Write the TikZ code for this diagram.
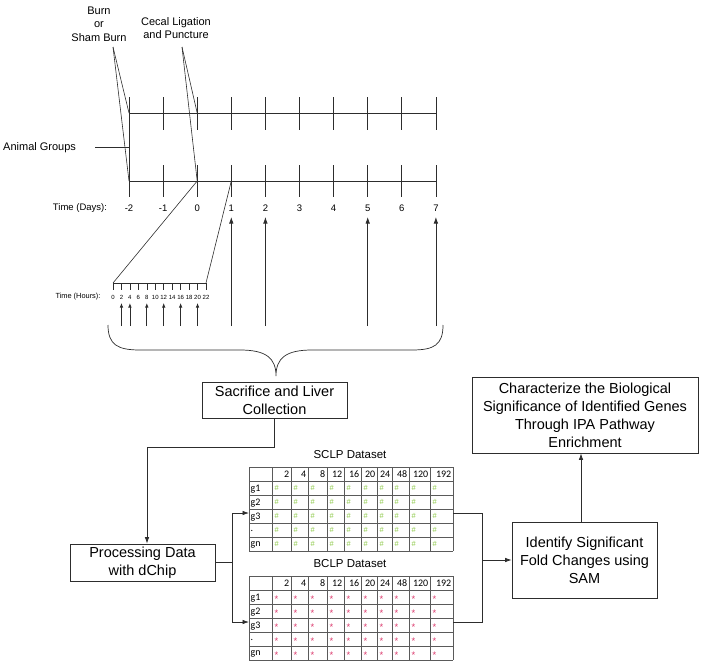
\documentclass[tikz,border=0pt]{standalone}
\usepackage{fontspec}
\setmainfont{Liberation Sans}
\newfontfamily\calib{Carlito}
\usetikzlibrary{arrows.meta}
\definecolor{lncol}{RGB}{45,45,45}
\definecolor{tabcol}{RGB}{90,90,90}
\definecolor{sgreen}{RGB}{140,200,70}
\definecolor{bred}{RGB}{220,60,110}
\begin{document}
\begin{tikzpicture}[x=1pt,y=-1pt,
  ln/.style={draw=lncol,line width=0.7pt},
  arr/.style={ln,-{Latex[length=6.5pt,width=4.5pt]}},
  sarr/.style={ln,-{Latex[length=4.5pt,width=3.5pt]}},
  box/.style={draw=lncol,line width=0.8pt,align=center,inner sep=0pt,
    font=\fontsize{14.5}{18}\selectfont},
  lab/.style={inner sep=0pt,font=\fontsize{11}{13.5}\selectfont,align=center},
  daylab/.style={inner sep=0pt,font=\fontsize{9.5}{11}\selectfont},
  hourlab/.style={inner sep=0pt,font=\fontsize{6}{7}\selectfont},
  tline/.style={draw=tabcol,line width=0.6pt},
  thead/.style={inner sep=0pt,font=\calib\fontsize{10}{11}\selectfont},
  dtitle/.style={inner sep=0pt,font=\fontsize{11.5}{13}\selectfont}]
\useasboundingbox (0,0) rectangle (702,672);

% ---------- labels at top ----------
\node[lab] (burn) at (99,24) {Burn\\or\\Sham Burn};
\node[lab] (clp) at (176,28) {Cecal Ligation\\and Puncture};
\node[lab,anchor=west] (animal) at (3,148) {Animal Groups};

% ---------- day timeline ----------
\draw[ln] (129,113) -- (436,113);
\draw[ln] (129,181) -- (436,181);
\draw[ln] (129,97) -- (129,197);
\foreach \k in {1,...,9}{
  \pgfmathsetmacro{\xx}{129+34.1*\k}
  \draw[ln] (\xx,97) -- (\xx,130);
  \draw[ln] (\xx,165) -- (\xx,197);
}
\foreach \k/\d in {0/-2,1/-1,2/0,3/1,4/2,5/3,6/4,7/5,8/6,9/7}{
  \pgfmathsetmacro{\xx}{129+34.1*\k}
  \node[daylab] (d\k) at (\xx,208) {\d};
}
\node[daylab] (tdays) at (80,208) {Time (Days):};

% pointer lines
\coordinate (bp) at (113,47);
\coordinate (cp) at (182,47);
\draw[ln,line width=0.6pt] (bp) -- (129,113);
\draw[ln,line width=0.6pt] (bp) -- (129,181);
\draw[ln,line width=0.6pt] (cp) -- (197.2,113);
\draw[ln,line width=0.6pt] (cp) -- (197.2,181);
\draw[ln,line width=0.6pt] (95,147) -- (129,147);

% ---------- hour axis ----------
\draw[ln,line width=0.6pt] (197.2,181) -- (113,283);
\draw[ln,line width=0.6pt] (231.3,181) -- (206,283);
\draw[ln,line width=0.6pt] (113,283) -- (206,283);
\foreach \h in {0,...,11}{
  \pgfmathsetmacro{\xx}{113+8.4545*\h}
  \pgfmathtruncatemacro{\hv}{2*\h}
  \draw[ln,line width=0.6pt] (\xx,283) -- (\xx,290);
  \node[hourlab] (h\h) at (\xx,297) {\hv};
}
\node[hourlab,font=\fontsize{7.4}{8}\selectfont] (thours) at (78,297) {Time (Hours):};
\foreach \h in {1,2,4,6,8,10}{
  \pgfmathsetmacro{\xx}{113+8.4545*\h}
  \draw[sarr] (\xx,326) -- (\xx,303);
}
\foreach \k in {3,4,7,9}{
  \pgfmathsetmacro{\xx}{129+34.1*\k}
  \draw[arr] (\xx,326) -- (\xx,217);
}

% ---------- brace ----------
\draw[ln] (108,325) .. controls (108,345) and (118,350) .. (140,350) -- (240,350)
  .. controls (266,350) and (276,358) .. (276,376)
  .. controls (276,358) and (286,350) .. (312,350) -- (412,350)
  .. controls (434,350) and (443,345) .. (443,325);

% ---------- boxes ----------
\node[box,minimum width=145pt,minimum height=36pt] (sac) at (274.5,400) {Sacrifice and Liver\\Collection};
\node[box,minimum width=145pt,minimum height=37pt] (proc) at (142.5,562.5) {Processing Data\\with dChip};
\node[box,minimum width=145pt,minimum height=76pt] (sam) at (584.5,560) {Identify Significant\\Fold Changes using\\SAM};
\node[box,minimum width=226pt,minimum height=76pt] (char) at (585,415) {Characterize the Biological\\Significance of Identified Genes\\Through IPA Pathway\\Enrichment};

% ---------- tables ----------
\node[dtitle] (stitle) at (350,455) {SCLP Dataset};
\node[dtitle] (btitle) at (350,564) {BCLP Dataset};
\foreach \ty/\tn in {467/S,576/B}{
  \foreach \r in {0,...,6}{
    \draw[tline] (249,\ty+14*\r) -- (453,\ty+14*\r);
  }
  \foreach \xx in {249,272,291,308,327,344,361,377,392,409,430,453}{
    \draw[tline] (\xx,\ty) -- (\xx,\ty+84);
  }
  \foreach \l/\r/\hh in {272/291/2,291/308/4,308/327/8,327/344/12,344/361/16,361/377/20,377/392/24,392/409/48,409/430/120,430/453/192}{
    \node[thead,anchor=east] at (\r-1.5,\ty+7.5) {\hh};
  }
  \foreach \g [count=\i] in {g1,g2,g3,.,gn}{
    \node[thead,anchor=west] at (250.5,\ty+14*\i+8) {\g};
  }
  \coordinate (\tn-in) at (249,\ty+46);
  \coordinate (\tn-out) at (453,\ty+46);
}
\foreach \l in {272,291,308,327,344,361,377,392,409,430}{
  \foreach \i in {1,...,5}{
    \node[inner sep=0pt,anchor=west,text=sgreen,font=\fontsize{7.5}{8}\selectfont] at (\l+2.5,467+14*\i+7) {\#};
    \node[inner sep=0pt,anchor=west,text=bred,font=\fontsize{9.5}{9}\selectfont] at (\l+2.5,576+14*\i+9) {*};
  }
}

% ---------- connectors ----------
\coordinate (pj) at (147,447);
\draw[arr] (sac.south) |- (pj) -- (pj |- proc.north);
\coordinate (lv) at (232,0);
\draw[ln] (proc.east) -- (proc.east -| lv);
\draw[ln] (lv |- S-in) -- (lv |- B-in);
\draw[arr] (lv |- S-in) -- (S-in);
\draw[arr] (lv |- B-in) -- (B-in);
\coordinate (rv) at (482,0);
\draw[ln] (S-out) -- (rv |- S-out) -- (rv |- B-out) -- (B-out);
\draw[arr] (rv |- sam.west) -- (sam.west);
\coordinate (uv) at (581,0);
\draw[arr] (uv |- sam.north) -- (uv |- char.south);
\end{tikzpicture}
\end{document}
